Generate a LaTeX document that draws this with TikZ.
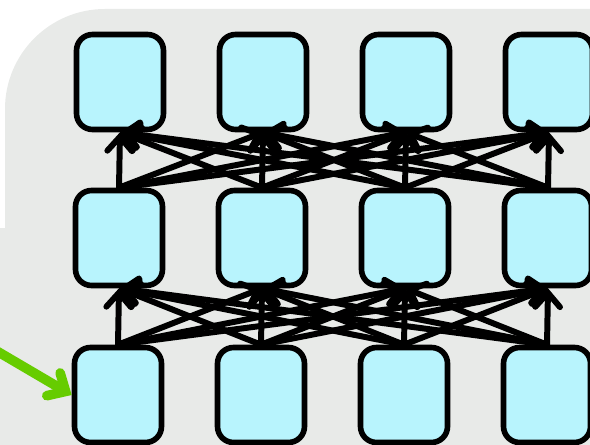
\documentclass[tikz,border=0pt]{standalone}
\usetikzlibrary{arrows.meta}
\definecolor{unitfill}{HTML}{B8F4FD}
\definecolor{panel}{HTML}{E8EAE8}
\definecolor{inputgreen}{HTML}{66CC00}
\newcommand{\hs}{143}
\newcommand{\vs}{156}

\begin{document}
\begin{tikzpicture}[x=0.02cm, y=-0.02cm,
    unit/.style={draw, rectangle, rounded corners=0.32cm, fill=unitfill, line width=3.2pt, minimum width=1.74cm, minimum height=1.9cm, inner sep=0pt},
    link/.style={line width=3.4pt, line cap=round, -{Straight Barb[length=8pt, width=14pt, line cap=round]}},
    feed/.style={inputgreen, line width=5.5pt, line cap=round, -{Straight Barb[length=8pt, width=15pt, line cap=round]}}]
    \useasboundingbox (0,0) rectangle (590,445);
    \clip (0,0) rectangle (590,445);
    % Background panel
    \fill[panel] (0,228) rectangle (590,445);
    \fill[panel, rounded corners=2cm] (5,9) rectangle (700,520);

    % Top row
    \node[unit] (unit-1-1) at (120+0*\hs,82) {};
    \node[unit] (unit-1-2) at (120+1*\hs,82) {};
    \node[unit] (unit-1-3) at (120+2*\hs,82) {};
    \node[unit] (unit-1-4) at (120+3*\hs,82) {};

    % Middle row
    \node[unit] (unit-2-1) at (119+0*\hs,82+\vs) {};
    \node[unit] (unit-2-2) at (119+1*\hs,82+\vs) {};
    \node[unit] (unit-2-3) at (119+2*\hs,82+\vs) {};
    \node[unit] (unit-2-4) at (119+3*\hs,82+\vs) {};

    % Bottom row
    \node[unit] (unit-3-1) at (118+0*\hs,83+2*\vs) {};
    \node[unit] (unit-3-2) at (118+1*\hs,83+2*\vs) {};
    \node[unit] (unit-3-3) at (118+2*\hs,83+2*\vs) {};
    \node[unit] (unit-3-4) at (118+3*\hs,83+2*\vs) {};

    % Middle row to top row
    \draw[link] (unit-2-1.north) -- (unit-1-1.south);
    \draw[link] (unit-2-1.north) -- (unit-1-2.south);
    \draw[link] (unit-2-1.north) -- (unit-1-3.south);
    \draw[link] (unit-2-1.north) -- (unit-1-4.south);
    \draw[link] (unit-2-2.north) -- (unit-1-1.south);
    \draw[link] (unit-2-2.north) -- (unit-1-2.south);
    \draw[link] (unit-2-2.north) -- (unit-1-3.south);
    \draw[link] (unit-2-2.north) -- (unit-1-4.south);
    \draw[link] (unit-2-3.north) -- (unit-1-1.south);
    \draw[link] (unit-2-3.north) -- (unit-1-2.south);
    \draw[link] (unit-2-3.north) -- (unit-1-3.south);
    \draw[link] (unit-2-3.north) -- (unit-1-4.south);
    \draw[link] (unit-2-4.north) -- (unit-1-1.south);
    \draw[link] (unit-2-4.north) -- (unit-1-2.south);
    \draw[link] (unit-2-4.north) -- (unit-1-3.south);
    \draw[link] (unit-2-4.north) -- (unit-1-4.south);

    % Bottom row to middle row
    \draw[link] (unit-3-1.north) -- (unit-2-1.south);
    \draw[link] (unit-3-1.north) -- (unit-2-2.south);
    \draw[link] (unit-3-1.north) -- (unit-2-3.south);
    \draw[link] (unit-3-1.north) -- (unit-2-4.south);
    \draw[link] (unit-3-2.north) -- (unit-2-1.south);
    \draw[link] (unit-3-2.north) -- (unit-2-2.south);
    \draw[link] (unit-3-2.north) -- (unit-2-3.south);
    \draw[link] (unit-3-2.north) -- (unit-2-4.south);
    \draw[link] (unit-3-3.north) -- (unit-2-1.south);
    \draw[link] (unit-3-3.north) -- (unit-2-2.south);
    \draw[link] (unit-3-3.north) -- (unit-2-3.south);
    \draw[link] (unit-3-3.north) -- (unit-2-4.south);
    \draw[link] (unit-3-4.north) -- (unit-2-1.south);
    \draw[link] (unit-3-4.north) -- (unit-2-2.south);
    \draw[link] (unit-3-4.north) -- (unit-2-3.south);
    \draw[link] (unit-3-4.north) -- (unit-2-4.south);

    % Input
    \coordinate (input) at (-5,350);
    \draw[feed] (input) -- (unit-3-1.west);
\end{tikzpicture}
\end{document}
